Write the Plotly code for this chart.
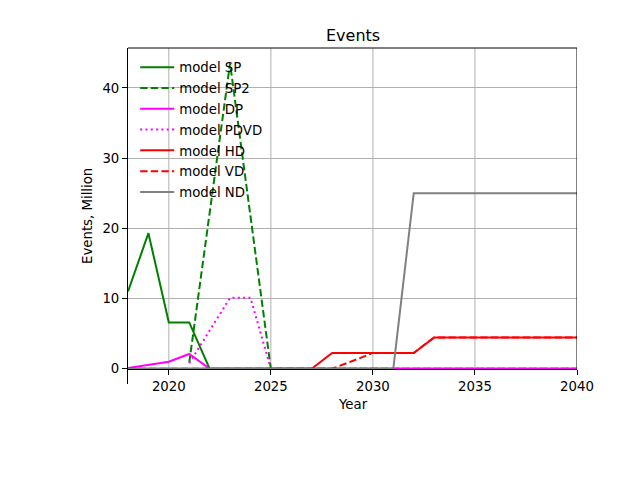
import plotly.graph_objects as go

years = list(range(2018, 2041))

sp = [11.0, 19.3, 6.6, 6.6] + [0] * 19
sp2 = [None, None, None, 0.85, 22.2, 43.5, 21.75, 0] + [0] * 15
dp = [0.1, 0.55, 1.0, 2.1] + [0] * 19
pdvd = [None, None, None, 0.8, 5.5, 10.1, 10.1, 0] + [0] * 15
hd = [0] * 10 + [2.25] * 5 + [4.45] * 8
vd = [0] * 11 + [1.1] + [2.25] * 3 + [4.45] * 8
nd = [0] * 14 + [25] * 9

names = ["model SP", "model SP2", "model DP", "model PDVD", "model HD", "model VD", "model ND"]
series = [sp, sp2, dp, pdvd, hd, vd, nd]
colors = ["green", "green", "#ff00ff", "#ff00ff", "red", "red", "gray"]
dashes = ["solid", "7.4px,3.2px", "solid", "2px,3.3px", "solid", "7.4px,3.2px", "solid"]

ylo, yhi = -2.175, 45.675

fig = go.Figure()
for i in range(len(names)):
    fig.add_trace(go.Scatter(x=years, y=series[i], mode="lines", name=names[i],
                             line=dict(color=colors[i], width=2, dash=dashes[i]),
                             legendgroup=names[i]))

font = dict(family="DejaVu Sans", size=13.3, color="black")

# page body adds ~8px offset, so margins are trimmed by that much
fig.update_layout(
    width=640, height=480,
    margin=dict(l=120, r=71, t=40, b=104),
    plot_bgcolor="white", paper_bgcolor="white",
    font=font,
    showlegend=True,
    legend=dict(x=0.016, y=0.988, xanchor="left", yanchor="top", itemwidth=34,
                bgcolor="rgba(0,0,0,0)", font=font, tracegroupgap=0.5),
    xaxis=dict(range=[2018, 2040], anchor="free", position=-ylo / (yhi - ylo),
               tickvals=[2020, 2025, 2030, 2035, 2040], showgrid=False, automargin=False,
               showline=True, linecolor="black", linewidth=1,
               ticks="outside", ticklen=5, tickcolor="black", zeroline=False),
    yaxis=dict(range=[ylo, yhi], tickvals=[0, 10, 20, 30, 40], showgrid=True, automargin=False,
               gridcolor="#b0b0b0", gridwidth=1, showline=True, linecolor="black",
               linewidth=1, ticks="outside", ticklen=5, tickcolor="black", zeroline=False),
)

# vertical grid lines from the zero line upward
for t in [2020, 2025, 2030, 2035]:
    fig.add_shape(type="line", x0=t, x1=t, y0=0, y1=yhi, xref="x", yref="y",
                  line=dict(color="#b0b0b0", width=1), layer="below")
# top and right spines
fig.add_shape(type="line", x0=0, x1=1, y0=1, y1=1, xref="paper", yref="paper",
              line=dict(color="black", width=1))
fig.add_shape(type="line", x0=2040, x1=2040, y0=0, y1=yhi, xref="x", yref="y",
              line=dict(color="black", width=1))

fig.add_annotation(text="Events", xref="paper", yref="paper", x=0.5, y=1,
                   xanchor="center", yanchor="middle", yshift=13, showarrow=False,
                   font=dict(family="DejaVu Sans", size=16, color="black"))
fig.add_annotation(text="Year", xref="paper", yref="paper", x=0.5, y=0,
                   xanchor="center", yanchor="middle", yshift=-20, showarrow=False, font=font)
fig.add_annotation(text="Events, Million", xref="paper", yref="paper", x=0, y=0.5,
                   xanchor="center", yanchor="middle", xshift=-41, textangle=-90,
                   showarrow=False, font=font)

fig.write_html("out.html")
